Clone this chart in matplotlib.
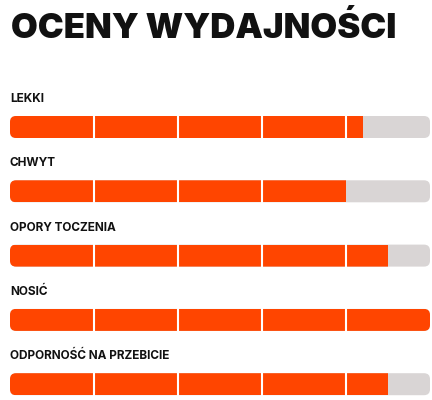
import matplotlib
matplotlib.use('Agg')
import matplotlib.pyplot as plt
from matplotlib.patches import FancyBboxPatch, Rectangle

CATEGORIES = ["LEKKI", "CHWYT", "OPORY TOCZENIA", "NOSIĆ", "ODPORNOŚĆ NA PRZEBICIE"]
SCORES = [4.2, 4.0, 4.5, 5.0, 4.5]
MAX_SCORE = 5

ORANGE = '#FF4500'
GREY = '#D9D5D5'

W, H = 432, 400
X0, TRACK = 10, 420
fig = plt.figure(figsize=(W / 100, H / 100), dpi=100)
ax = fig.add_axes([0, 0, 1, 1])
ax.set_xlim(0, W)
ax.set_ylim(H, 0)
ax.axis('off')

ax.text(11, 28, "OCENY WYDAJNOŚCI", fontsize=25, fontweight='black',
        family=['Inter', 'DejaVu Sans'], va='center', ha='left', color='#111')

for i, (cat, score) in enumerate(zip(CATEGORIES, SCORES)):
    top = 116 + i * 64.3
    ax.text(X0, top - 17, cat, fontsize=8.5, fontweight='bold',
            family=['Inter', 'DejaVu Sans'], va='center', ha='left', color='#111')
    track = FancyBboxPatch((X0, top), TRACK, 22, boxstyle="round,pad=0,rounding_size=6",
                           facecolor=GREY, edgecolor='none')
    ax.add_patch(track)
    fill = Rectangle((X0, top), score / MAX_SCORE * TRACK, 22, facecolor=ORANGE, edgecolor='none')
    ax.add_patch(fill)
    fill.set_clip_path(track)
    for k in range(1, MAX_SCORE):
        xk = X0 + k * TRACK / MAX_SCORE
        if xk < X0 + score / MAX_SCORE * TRACK:
            ax.plot([xk, xk], [top, top + 22], color='white', lw=1.5)

fig.savefig('out.png', dpi=100)
